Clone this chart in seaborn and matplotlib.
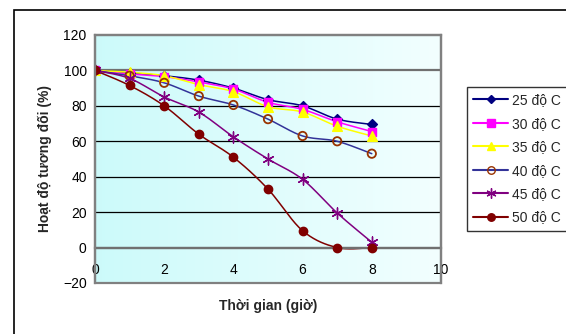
import numpy as np
import pandas as pd
import matplotlib
matplotlib.use("Agg")
import matplotlib.pyplot as plt
from matplotlib.lines import Line2D
from matplotlib.patches import Rectangle
import seaborn as sns

sns.set_style("white")
plt.rcParams["font.family"] = ["Liberation Sans", "DejaVu Sans"]

hours = [0, 1, 2, 3, 4, 5, 6, 7, 8]
act_25 = [100, 98.5, 97, 94.5, 90, 83.5, 80, 72.5, 69.5]
act_30 = [100, 98, 96.5, 93.5, 89.5, 82, 78, 71, 65.5]
act_35 = [100, 99, 97, 92, 88, 79.5, 76.5, 68.5, 63]
act_40 = [100, 97, 93, 85.5, 80.5, 72.5, 63, 60, 53]
act_45 = [100, 95.5, 85, 76.5, 62.5, 50, 38.5, 19.5, 3]
act_50 = [100, 91.5, 80, 64, 51, 33, 9.5, 0, 0]

series_names = ["25 độ C", "30 độ C", "35 độ C", "40 độ C", "45 độ C", "50 độ C"]
series_values = [act_25, act_30, act_35, act_40, act_45, act_50]

styles = {
    "25 độ C": dict(line="#000080", marker="D", mfc="#000080", mec="#000080", ms=5),
    "30 độ C": dict(line="#FF00FF", marker="s", mfc="#FF00FF", mec="#FF00FF", ms=6),
    "35 độ C": dict(line="#FFFF00", marker="^", mfc="#FFFF00", mec="#FFFF00", ms=7),
    "40 độ C": dict(line="#333399", marker="o", mfc="none", mec="#993300", ms=6),
    "45 độ C": dict(line="#800080", marker=(6, 2, 0), mfc="#800080", mec="#800080", ms=8),
    "50 độ C": dict(line="#800000", marker="o", mfc="#800000", mec="#800000", ms=6),
}

df = pd.DataFrame(
    [(n, h, v) for n, vals in zip(series_names, series_values) for h, v in zip(hours, vals)],
    columns=["series", "hour", "activity"],
)


def smooth(x, y, steps=20):
    """Bezier smoothing through every point (Excel-style smoothed line)."""
    x = np.asarray(x, float)
    y = np.asarray(y, float)
    p = np.column_stack([x, y])
    out = [p[0]]
    n = len(p)
    t = np.linspace(0, 1, steps)[1:]
    for i in range(n - 1):
        p0 = p[i - 1] if i > 0 else p[i]
        p1, p2 = p[i], p[i + 1]
        p3 = p[i + 2] if i + 2 < n else p[i + 1]
        c1 = p1 + (p2 - p0) / 6.0
        c2 = p2 - (p3 - p1) / 6.0
        for tt in t:
            b = ((1 - tt) ** 3) * p1 + 3 * ((1 - tt) ** 2) * tt * c1 + 3 * (1 - tt) * tt ** 2 * c2 + tt ** 3 * p2
            out.append(b)
    out = np.array(out)
    return out[:, 0], out[:, 1]


fig = plt.figure(figsize=(5.66, 3.34), dpi=100)
ax = fig.add_axes([95 / 566, 1 - 283 / 334, 346 / 566, 248 / 334])

# outer chart frame
fig.patches.append(Rectangle((14 / 566, -0.1), 1.2, 1 - 10 / 334 + 0.1,
                             transform=fig.transFigure, fill=False,
                             edgecolor="black", linewidth=1.2, zorder=0))

ax.set_xlim(0, 10)
ax.set_ylim(-20, 120)

# gradient plot background
grad = np.linspace(0, 1, 256).reshape(1, -1)
c0 = np.array([0.80, 0.98, 0.98])
c1 = np.array([0.95, 1.0, 1.0])
img = c0[None, None, :] * (1 - grad[..., None]) + c1[None, None, :] * grad[..., None]
ax.imshow(img, extent=[0, 10, -20, 120], aspect="auto", zorder=0)

# horizontal gridlines
for yv in [20, 40, 60, 80]:
    ax.axhline(yv, color="black", linewidth=0.9, zorder=1)
ax.axhline(100, color="#707070", linewidth=1.6, zorder=1)
ax.axhline(0, color="#707070", linewidth=1.6, zorder=1)

for name in series_names:
    st = styles[name]
    sub = df[df["series"] == name]
    sx, sy = smooth(sub["hour"], sub["activity"])
    ax.plot(sx, sy, color=st["line"], linewidth=1.1, zorder=2)
    sns.scatterplot(data=sub, x="hour", y="activity", ax=ax, marker=st["marker"],
                    s=st["ms"] ** 2, facecolor=st["mfc"], edgecolor=st["mec"],
                    linewidth=1.3 if st["mfc"] == "none" else 1.0, zorder=3, legend=False)

ax.set_xticks([0, 2, 4, 6, 8, 10])
ax.set_yticks(range(-20, 121, 20))
ax.spines["bottom"].set_position(("data", 0))
ax.spines["bottom"].set_color("#707070")
ax.spines["bottom"].set_linewidth(1.6)
for s in ["left", "right", "top"]:
    ax.spines[s].set_color("#808080")
    ax.spines[s].set_linewidth(1.6)
ax.add_patch(Rectangle((0, 0), 1, 1, transform=ax.transAxes, fill=False,
                       edgecolor="#808080", linewidth=1.6, zorder=5, clip_on=False))
ax.tick_params(axis="x", direction="out", length=4, width=1, color="black",
               pad=7, labelsize=10, labelcolor="black")
ax.tick_params(axis="y", direction="out", length=4, width=1, color="black",
               pad=2, labelsize=10, labelcolor="black")
ax.set_xlabel("Thời gian (giờ)", fontsize=10, fontweight="bold")
ax.set_ylabel("Hoạt độ tương đối (%)", fontsize=10, fontweight="bold", labelpad=8)
ax.xaxis.set_label_coords(0.5, -0.065)

handles = []
for name in series_names:
    st = styles[name]
    handles.append(Line2D([], [], color=st["line"], marker=st["marker"], markersize=st["ms"] * 0.9,
                          markerfacecolor=st["mfc"], markeredgecolor=st["mec"], linewidth=1.5))
leg = fig.legend(handles, series_names, loc="upper left",
                 bbox_to_anchor=(467 / 566, 1 - 87 / 334), fontsize=10,
                 frameon=True, fancybox=False, edgecolor="black", borderaxespad=0,
                 handlelength=2.5, labelspacing=0.68, borderpad=0.45, handletextpad=0.3)
leg.get_frame().set_linewidth(1.0)

fig.savefig("out.png", dpi=100)
